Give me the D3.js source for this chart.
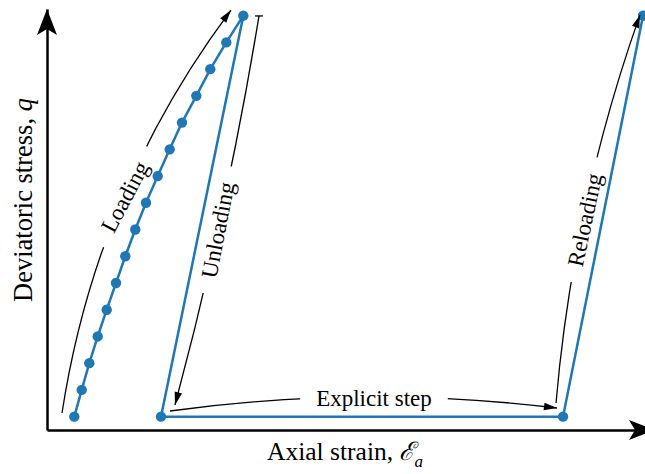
<!DOCTYPE html>
<html>
<head>
<meta charset="utf-8">
<script src="https://cdn.jsdelivr.net/npm/d3@7"></script>
<style>
	body { margin: 0; background: #fff; }
	svg text { font-family: "Liberation Serif", "DejaVu Serif", serif; fill: #000; }
</style>
</head>
<body>
<svg id="chart"></svg>
<script>
/*	Stress path data (strain in arbitrary units, q in load steps)--*/
const loadStrain   = [0.449, 0.571, 0.696, 0.834, 0.982, 1.135, 1.288, 1.452,
                      1.628, 1.821, 2.018, 2.220, 2.456, 2.686, 2.949, 3.229];
const loadStress   = [0, 1, 2, 3, 4, 5, 6, 7, 8, 9, 10, 11, 12, 13, 14, 15];
const unloadStrain = [3.229, 1.875];
const unloadStress = [15, 0];
const stepStrain   = [1.875, 8.487];
const stepStress   = [0, 0];
const reloadStrain = [8.487, 9.803];
const reloadStress = [0, 15];

/*	Annotation labels and where their arrows run (data units)----*/
const noteLabels = ["Loading", "Unloading", "Explicit step", "Reloading"];
const noteFrom   = [[0.247, 0.136], [3.487, 14.99], [2.023, 0.211], [8.372, 0.510]];
const noteTo     = [[3.026, 15.21], [2.105, 0.435], [8.388, 0.323], [9.753, 15.03]];
const noteText   = [[1.283, 8.217], [2.813, 6.98], [5.378, 0.697], [8.849, 7.356]];
const noteAngle  = [-62, -79, 0, -78];
const noteRad    = [0.125, 0.025, 0.065, 0.064];
const noteHead   = [true, true, true, true];
const noteTick   = [false, true, false, false];

const xLabel = "Axial strain, ";
const yLabel = "Deviatoric stress, ";

/*	Canvas size-------------------------------------------------*/
const width = 645, height = 474;
const blue = "#1f77b4";

const svg = d3.select("#chart")
	.attr("width", width)
	.attr("height", height)
	.attr("viewBox", "0 0 " + width + " " + height);

/*	Scales: axis lines run over the whole range, tip included---*/
const x = d3.scaleLinear().domain([0, 10]).range([47, 655]);
const y = d3.scaleLinear().domain([-0.5, 15.25]).range([430, 9]);

/*	Axes without ticks, only the domain line--------------------*/
const xAxis = svg.append("g")
	.attr("class", "axis")
	.attr("transform", "translate(0," + y(-0.5) + ")")
	.call(d3.axisBottom(x).tickValues([]).tickSizeOuter(0));
const yAxis = svg.append("g")
	.attr("class", "axis")
	.attr("transform", "translate(" + x(0) + ",0)")
	.call(d3.axisLeft(y).tickValues([]).tickSizeOuter(0));
svg.selectAll(".axis .domain")
	.attr("stroke", "#000")
	.attr("stroke-width", 2.5);

/*	Notched arrow heads at the ends of both axes----------------*/
function axisHead(tx, ty, ux, uy) {
	const len = 26, half = 10, notch = 20;
	const nx = -uy, ny = ux;
	return "M" + tx + "," + ty +
		"L" + (tx - ux * len + nx * half) + "," + (ty - uy * len + ny * half) +
		"L" + (tx - ux * notch) + "," + (ty - uy * notch) +
		"L" + (tx - ux * len - nx * half) + "," + (ty - uy * len - ny * half) + "Z";
}
svg.append("path")
	.attr("d", axisHead(x.range()[1], y(-0.5), 1, 0))
	.attr("fill", "#000");
svg.append("path")
	.attr("d", axisHead(x(0), y.range()[1], 0, -1))
	.attr("fill", "#000");

/*	Whole stress path as one line with markers------------------*/
const pathStrain = loadStrain.concat(unloadStrain.slice(1), stepStrain.slice(1), reloadStrain.slice(1));
const pathStress = loadStress.concat(unloadStress.slice(1), stepStress.slice(1), reloadStress.slice(1));
const points = pathStrain.map((s, i) => [s, pathStress[i]]);

svg.append("path")
	.datum(points)
	.attr("fill", "none")
	.attr("stroke", blue)
	.attr("stroke-width", 2.5)
	.attr("stroke-linejoin", "round")
	.attr("d", d3.line().x(d => x(d[0])).y(d => y(d[1])));

svg.append("g").selectAll(".circles")
	.data(points)
	.enter().append("circle")
	.attr("class", "circles")
	.attr("cx", d => x(d[0]))
	.attr("cy", d => y(d[1]))
	.attr("r", 5.2)
	.attr("fill", blue);

/*	Annotations: curved arrow, broken where the label sits------*/
const defs = svg.append("defs");
noteLabels.forEach(function(label, i) {
	const x1 = x(noteFrom[i][0]), y1 = y(noteFrom[i][1]);
	const x2 = x(noteTo[i][0]),   y2 = y(noteTo[i][1]);
	const dx = x2 - x1, dy = y2 - y1;
	/*	arc3 style control point------------------------------*/
	const cx = (x1 + x2) / 2 + noteRad[i] * dy;
	const cy = (y1 + y2) / 2 - noteRad[i] * dx;
	const tx = x(noteText[i][0]), ty = y(noteText[i][1]);

	/*	Label first, so its size gives the gap in the arrow----*/
	const tg = svg.append("g")
		.attr("transform", "translate(" + tx + "," + ty + ") rotate(" + noteAngle[i] + ")");
	const t = tg.append("text")
		.attr("text-anchor", "middle")
		.attr("dominant-baseline", "central")
		.attr("font-size", 23)
		.text(label);
	const bb = t.node().getBBox();

	const mask = defs.append("mask")
		.attr("id", "gap" + i)
		.attr("maskUnits", "userSpaceOnUse")
		.attr("x", 0).attr("y", 0)
		.attr("width", width).attr("height", height);
	mask.append("rect")
		.attr("width", width).attr("height", height)
		.attr("fill", "#fff");
	mask.append("rect")
		.attr("transform", "translate(" + tx + "," + ty + ") rotate(" + noteAngle[i] + ")")
		.attr("x", bb.x - 16).attr("y", bb.y - 2)
		.attr("width", bb.width + 32).attr("height", bb.height + 4)
		.attr("fill", "#000");

	const ag = svg.append("g").attr("mask", "url(#gap" + i + ")");
	ag.append("path")
		.attr("d", "M" + x1 + "," + y1 + "Q" + cx + "," + cy + " " + x2 + "," + y2)
		.attr("fill", "none")
		.attr("stroke", "#000")
		.attr("stroke-width", 1.3);

	/*	Filled head, pointing along the end tangent-----------*/
	if (noteHead[i]) {
		const ex = x2 - cx, ey = y2 - cy, el = Math.hypot(ex, ey);
		const ux = ex / el, uy = ey / el;
		const len = 13, half = 3.8;
		svg.append("path")
			.attr("d", "M" + x2 + "," + y2 +
				"L" + (x2 - ux * len - uy * half) + "," + (y2 - uy * len + ux * half) +
				"L" + (x2 - ux * len + uy * half) + "," + (y2 - uy * len - ux * half) + "Z")
			.attr("fill", "#000");
	}
	/*	Small bar at the tail of the unloading arrow----------*/
	if (noteTick[i]) {
		svg.append("line")
			.attr("x1", x1 - 4).attr("x2", x1 + 4)
			.attr("y1", y1).attr("y2", y1)
			.attr("stroke", "#000")
			.attr("stroke-width", 1.3);
	}
});

/*	Axis titles---------------------------------------------------*/
const xt = svg.append("text")
	.attr("x", 345)
	.attr("y", 460)
	.attr("text-anchor", "middle")
	.attr("font-size", 25.5)
	.text(xLabel);
xt.append("tspan").attr("font-style", "italic").text("ℰ");
xt.append("tspan").attr("font-style", "italic").attr("font-size", 17).attr("dy", 7).text("a");

const yt = svg.append("text")
	.attr("transform", "translate(32,200) rotate(-90)")
	.attr("text-anchor", "middle")
	.attr("font-size", 26.5)
	.text(yLabel);
yt.append("tspan").attr("font-style", "italic").text("q");
</script>
</body>
</html>
